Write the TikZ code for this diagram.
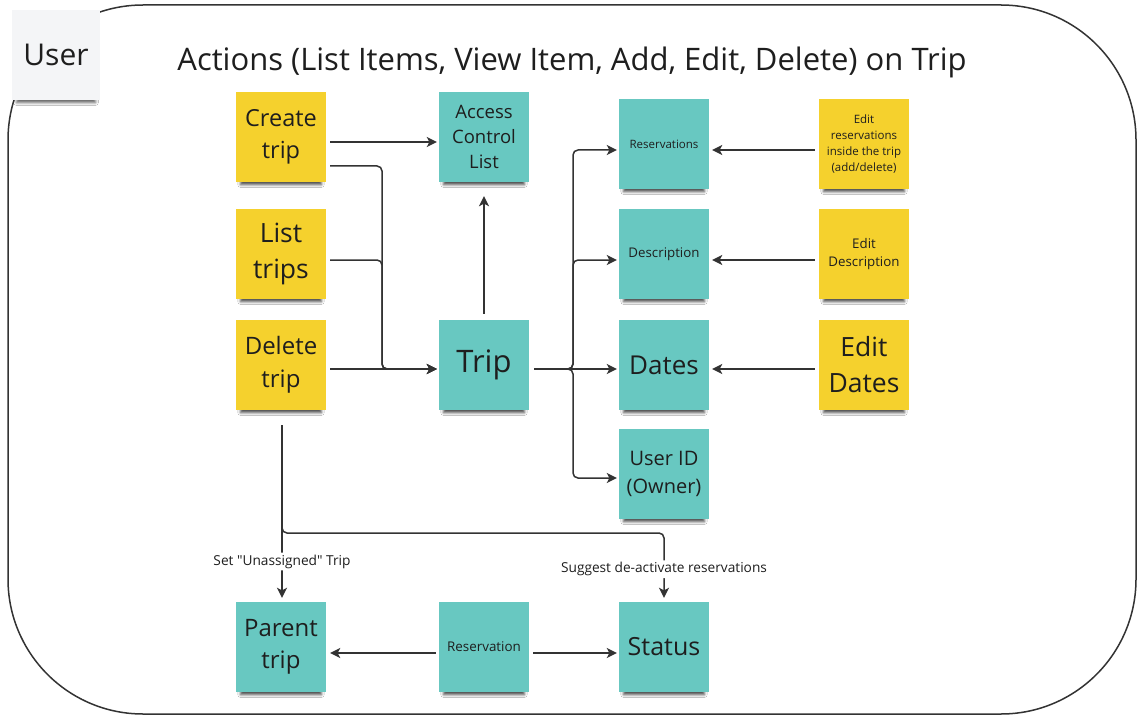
\documentclass[tikz,border=0pt]{standalone}
\usepackage{fontspec}
\setmainfont{Open Sans}[Ligatures=TeXOff]
\usetikzlibrary{arrows.meta,calc,shadows.blur}
\definecolor{stickyY}{HTML}{F5D12D}
\definecolor{stickyT}{HTML}{68C8C1}
\definecolor{lineC}{HTML}{333333}
\definecolor{txtC}{HTML}{1E1E1E}
\definecolor{userC}{HTML}{F4F5F7}
\newcommand{\fs}[2]{\fontsize{#1}{#2}\selectfont}
\tikzset{
  note/.style={minimum width=90pt, minimum height=90pt, inner sep=0pt, align=center, text=txtC,
    blur shadow={shadow xshift=0pt, shadow yshift=-8pt, shadow scale=0.9, shadow blur radius=3pt, shadow opacity=70}},
  yel/.style={note, fill=stickyY},
  tea/.style={note, fill=stickyT},
  conn/.style={draw=lineC, line width=1.5pt, rounded corners=5pt, -{Stealth[length=10pt,width=10pt,inset=2.5pt]}},
  lbl/.style={fill=white, inner sep=2pt, font=\fs{13.7}{16}, text=txtC},
}
\begin{document}
\begin{tikzpicture}[x=1pt,y=-1pt]
\useasboundingbox (0,0) rectangle (1143,722);
\fill[white] (0,0) rectangle (1143,722);
% outer frame
\draw[line width=1.5pt, draw=lineC, rounded corners=135pt] (8,5) rectangle (1136,714);
% user note
\node[fill=userC, minimum width=88pt, minimum height=90pt, inner sep=0pt, font=\fs{30}{36}, text=txtC,
  blur shadow={shadow xshift=0pt, shadow yshift=-8pt, shadow scale=0.9, shadow blur radius=3pt, shadow opacity=60}] (user) at (56,55) {User};
% title
\node[font=\fs{31}{37}, text=txtC] (title) at (572,62) {Actions (List Items, View Item, Add, Edit, Delete) on Trip};
% left column
\node[yel, font=\fs{23.5}{32}] (ct) at (281,137) {Create\\trip};
\node[yel, font=\fs{26.5}{36}] (lt) at (281,254) {List\\trips};
\node[yel, font=\fs{24}{33}] (dt) at (281,365) {Delete\\trip};
% middle column
\node[tea, font=\fs{18.5}{25}] (acl) at (484,137) {Access\\Control\\List};
\node[tea, font=\fs{31}{37}] (trip) at (484,365) {Trip};
% fields
\node[tea, font=\fs{11.5}{14}] (res) at (664,144) {Reservations};
\node[tea, font=\fs{13.3}{16}] (desc) at (664,254) {Description};
\node[tea, font=\fs{26}{32}] (dates) at (664,365) {Dates};
\node[tea, font=\fs{20}{28}] (uid) at (664,474) {User ID\\(Owner)};
% edit notes
\node[yel, font=\fs{11.5}{16}] (er) at (864,144) {Edit\\reservations\\inside the trip\\(add/delete)};
\node[yel, font=\fs{13.3}{18}] (ed) at (864,254) {Edit\\Description};
\node[yel, font=\fs{26.5}{36}] (edd) at (864,365) {Edit\\Dates};
% bottom row
\node[tea, font=\fs{24}{32}] (pt) at (281,647) {Parent\\trip};
\node[tea, font=\fs{13.4}{16}] (rsv) at (484,647) {Reservation};
\node[tea, font=\fs{25}{31}] (st) at (664,647) {Status};
% junctions
\coordinate (jl) at (382,369);
\coordinate (jr) at (573,369);
\coordinate (jd) at (664,533);
% connectors
\draw[conn] ($(ct.east)+(4,5)$) -- ($(acl.west)+(-2,5)$);
\draw[conn] ($(ct.east)+(4,29)$) -| (jl) -- ($(trip.west)+(-2,4)$);
\draw[conn] ($(lt.east)+(4,6)$) -| (jl) -- ($(trip.west)+(-2,4)$);
\draw[conn] ($(dt.east)+(4,4)$) -- ($(trip.west)+(-2,4)$);
\draw[conn] ($(trip.north)+(0,-6)$) -- ($(acl.south)+(0,14)$);
\draw[conn] ($(trip.east)+(5,4)$) -- (jr) |- ($(res.west)+(-2,6)$);
\draw[conn] ($(trip.east)+(5,4)$) -- (jr) |- ($(desc.west)+(-2,6)$);
\draw[conn] ($(trip.east)+(5,4)$) -- ($(dates.west)+(-2,4)$);
\draw[conn] ($(trip.east)+(5,4)$) -- (jr) |- ($(uid.west)+(-2,4)$);
\draw[conn] ($(er.west)+(-4,6)$) -- ($(res.east)+(3,6)$);
\draw[conn] ($(ed.west)+(-4,6)$) -- ($(desc.east)+(3,6)$);
\draw[conn] ($(edd.west)+(-4,4)$) -- ($(dates.east)+(3,4)$);
\draw[conn] ($(dt.south)+(1,15)$) -- node[lbl, pos=0.79] {Set "Unassigned" Trip} ($(pt.north)+(1,-4)$);
\draw[conn] ($(dt.south)+(1,15)$) |- (jd) -- node[lbl, pos=0.56] {Suggest de-activate reservations} ($(st.north)+(0,-4)$);
\draw[conn] ($(rsv.west)+(-3,6)$) -- ($(pt.east)+(4,6)$);
\draw[conn] ($(rsv.east)+(4,6)$) -- ($(st.west)+(-2,6)$);
\end{tikzpicture}
\end{document}
